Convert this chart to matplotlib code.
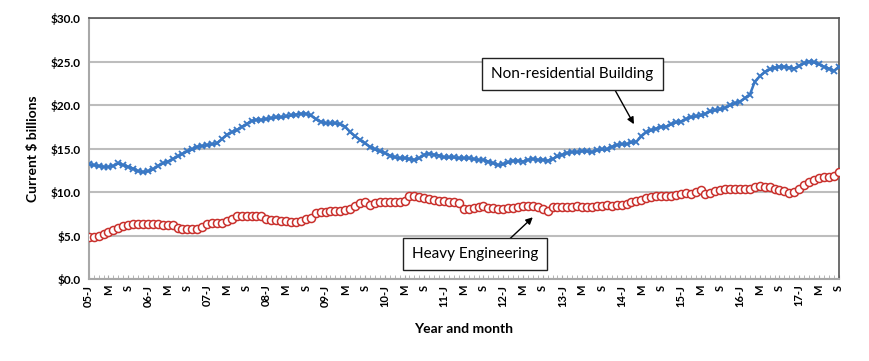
import numpy as np
import matplotlib
matplotlib.use("Agg")
import matplotlib.pyplot as plt

plt.rcParams['font.family'] = ['Lato', 'DejaVu Sans']

# monthly values, Jan 2005 .. Sep 2017 ($ billions)
non_res_building = [
    13.2, 13.1, 13.0, 12.9, 12.9, 13.0, 13.3, 13.1, 12.9, 12.7, 12.4, 12.3,  # 2005
    12.4, 12.6, 13.0, 13.3, 13.5, 13.8, 14.1, 14.4, 14.7, 14.9, 15.2, 15.3,  # 2006
    15.4, 15.5, 15.6, 16.1, 16.6, 16.9, 17.1, 17.5, 17.8, 18.2, 18.3, 18.3,  # 2007
    18.4, 18.5, 18.6, 18.6, 18.7, 18.8, 18.9, 19.0, 19.0, 18.8, 18.4, 18.1,  # 2008
    17.9, 17.9, 17.9, 17.8, 17.5, 16.9, 16.4, 16.0, 15.6, 15.2, 14.9, 14.7,  # 2009
    14.5, 14.2, 14.0, 13.9, 13.9, 13.8, 13.7, 13.9, 14.3, 14.4, 14.3, 14.2,  # 2010
    14.0, 14.0, 14.0, 13.9, 13.9, 13.9, 13.8, 13.7, 13.7, 13.5, 13.3, 13.1,  # 2011
    13.2, 13.4, 13.6, 13.6, 13.5, 13.7, 13.8, 13.7, 13.7, 13.6, 13.8, 14.1,  # 2012
    14.3, 14.5, 14.6, 14.6, 14.7, 14.7, 14.6, 14.8, 14.9, 14.9, 15.2, 15.4,  # 2013
    15.5, 15.5, 15.7, 15.8, 16.4, 16.9, 17.1, 17.3, 17.5, 17.5, 17.8, 18.0,  # 2014
    18.1, 18.4, 18.6, 18.7, 18.8, 19.0, 19.3, 19.4, 19.5, 19.7, 20.0, 20.2,  # 2015
    20.4, 20.8, 21.2, 22.7, 23.3, 23.8, 24.1, 24.3, 24.4, 24.4, 24.3, 24.2,  # 2016
    24.5, 24.8, 25.0, 24.9, 24.7, 24.4, 24.2, 23.9, 24.4,                    # 2017
]
heavy_engineering = [
    4.8, 4.8, 5.0, 5.2, 5.4, 5.6, 5.9, 6.1, 6.2, 6.3, 6.3, 6.3,  # 2005
    6.3, 6.3, 6.3, 6.2, 6.2, 6.2, 5.9, 5.8, 5.8, 5.7, 5.8, 6.0,  # 2006
    6.3, 6.4, 6.4, 6.5, 6.7, 6.9, 7.2, 7.2, 7.2, 7.2, 7.2, 7.2,  # 2007
    6.9, 6.8, 6.8, 6.7, 6.7, 6.6, 6.6, 6.7, 6.9, 7.0, 7.6, 7.7,  # 2008
    7.7, 7.8, 7.8, 7.8, 7.9, 8.1, 8.4, 8.7, 8.8, 8.5, 8.7, 8.8,  # 2009
    8.9, 8.9, 8.9, 8.9, 9.0, 9.5, 9.5, 9.4, 9.3, 9.2, 9.1, 9.0,  # 2010
    9.0, 8.9, 8.8, 8.7, 8.1, 8.1, 8.2, 8.3, 8.4, 8.2, 8.2, 8.1,  # 2011
    8.1, 8.2, 8.2, 8.3, 8.4, 8.4, 8.4, 8.3, 8.0, 7.8, 8.3, 8.3,  # 2012
    8.3, 8.3, 8.3, 8.4, 8.3, 8.3, 8.3, 8.4, 8.4, 8.5, 8.4, 8.5,  # 2013
    8.5, 8.6, 8.8, 9.0, 9.1, 9.3, 9.4, 9.5, 9.6, 9.6, 9.6, 9.7,  # 2014
    9.8, 9.9, 9.8, 10.0, 10.2, 9.8, 9.9, 10.1, 10.2, 10.3, 10.3, 10.3,  # 2015
    10.3, 10.3, 10.4, 10.6, 10.7, 10.6, 10.6, 10.4, 10.2, 10.1, 9.9, 10.0,  # 2016
    10.3, 10.8, 11.2, 11.4, 11.6, 11.7, 11.7, 11.8, 12.3,                  # 2017
]
years = list(range(2005, 2018))
month_letters = {0: 'J', 4: 'M', 8: 'S'}

months = np.arange(len(non_res_building))
tick_pos = months[::4]
tick_labels = []
for m in tick_pos:
    yr, mo = years[m // 12], m % 12
    if mo == 0:
        tick_labels.append(f"{yr % 100:02d}-J")
    else:
        tick_labels.append(month_letters[mo])

fig = plt.figure(figsize=(8.7, 3.61), dpi=100)
ax = fig.add_axes([0.102, 0.227, 0.862, 0.723])

ax.plot(months, non_res_building, color='#3a78c4', lw=1.8, marker='x',
        ms=5, mew=1.3, zorder=3)
ax.plot(months, heavy_engineering, color='#c9302c', lw=1.0, marker='o',
        ms=5.8, mfc='white', mec='#c9302c', mew=1.1, zorder=3)

ax.set_xlim(0, len(months) - 1)
ax.set_ylim(0, 30)
ax.set_yticks(np.arange(0, 31, 5))
ax.set_yticklabels([f"${v:.1f}" for v in np.arange(0, 31, 5)],
                   fontsize=8.5, fontweight='bold')
ax.yaxis.grid(True, color='#bdbdbd', lw=1.5)
ax.set_axisbelow(True)
ax.tick_params(axis='y', length=0, pad=6)

ax.set_xticks(tick_pos)
ax.set_xticklabels(tick_labels, rotation=90, fontsize=8, fontweight='bold')
ax.set_xticks(months, minor=True)
ax.tick_params(axis='x', which='both', direction='in', length=3,
               color='#aaaaaa', pad=4)

for s in ['left', 'bottom']:
    ax.spines[s].set_color('#a8a8a8')
    ax.spines[s].set_linewidth(1.5)
for s in ['top', 'right']:
    ax.spines[s].set_color('#555555')
    ax.spines[s].set_linewidth(1.2)

ax.set_ylabel('Current $ billions', fontsize=10, fontweight='bold', labelpad=8)
ax.set_xlabel('Year and month', fontsize=10, fontweight='bold', labelpad=12)

box = dict(boxstyle='square,pad=0.6', fc='white', ec='#222222', lw=1)
arrow = dict(arrowstyle='-|>', color='black', lw=1, mutation_scale=10,
             shrinkA=0, shrinkB=0)

ax.text(98, 23.6, 'Non-residential Building', fontsize=11, ha='center',
        va='center', bbox=box, zorder=5)
ax.annotate('', xy=(110.5, 17.8), xytext=(106.2, 22.2), arrowprops=arrow,
            zorder=4)

ax.text(78.3, 2.9, 'Heavy Engineering', fontsize=11, ha='center',
        va='center', bbox=box, zorder=5)
ax.annotate('', xy=(90, 7.1), xytext=(85.3, 4.6), arrowprops=arrow, zorder=4)

fig.savefig('out.png', dpi=100)
